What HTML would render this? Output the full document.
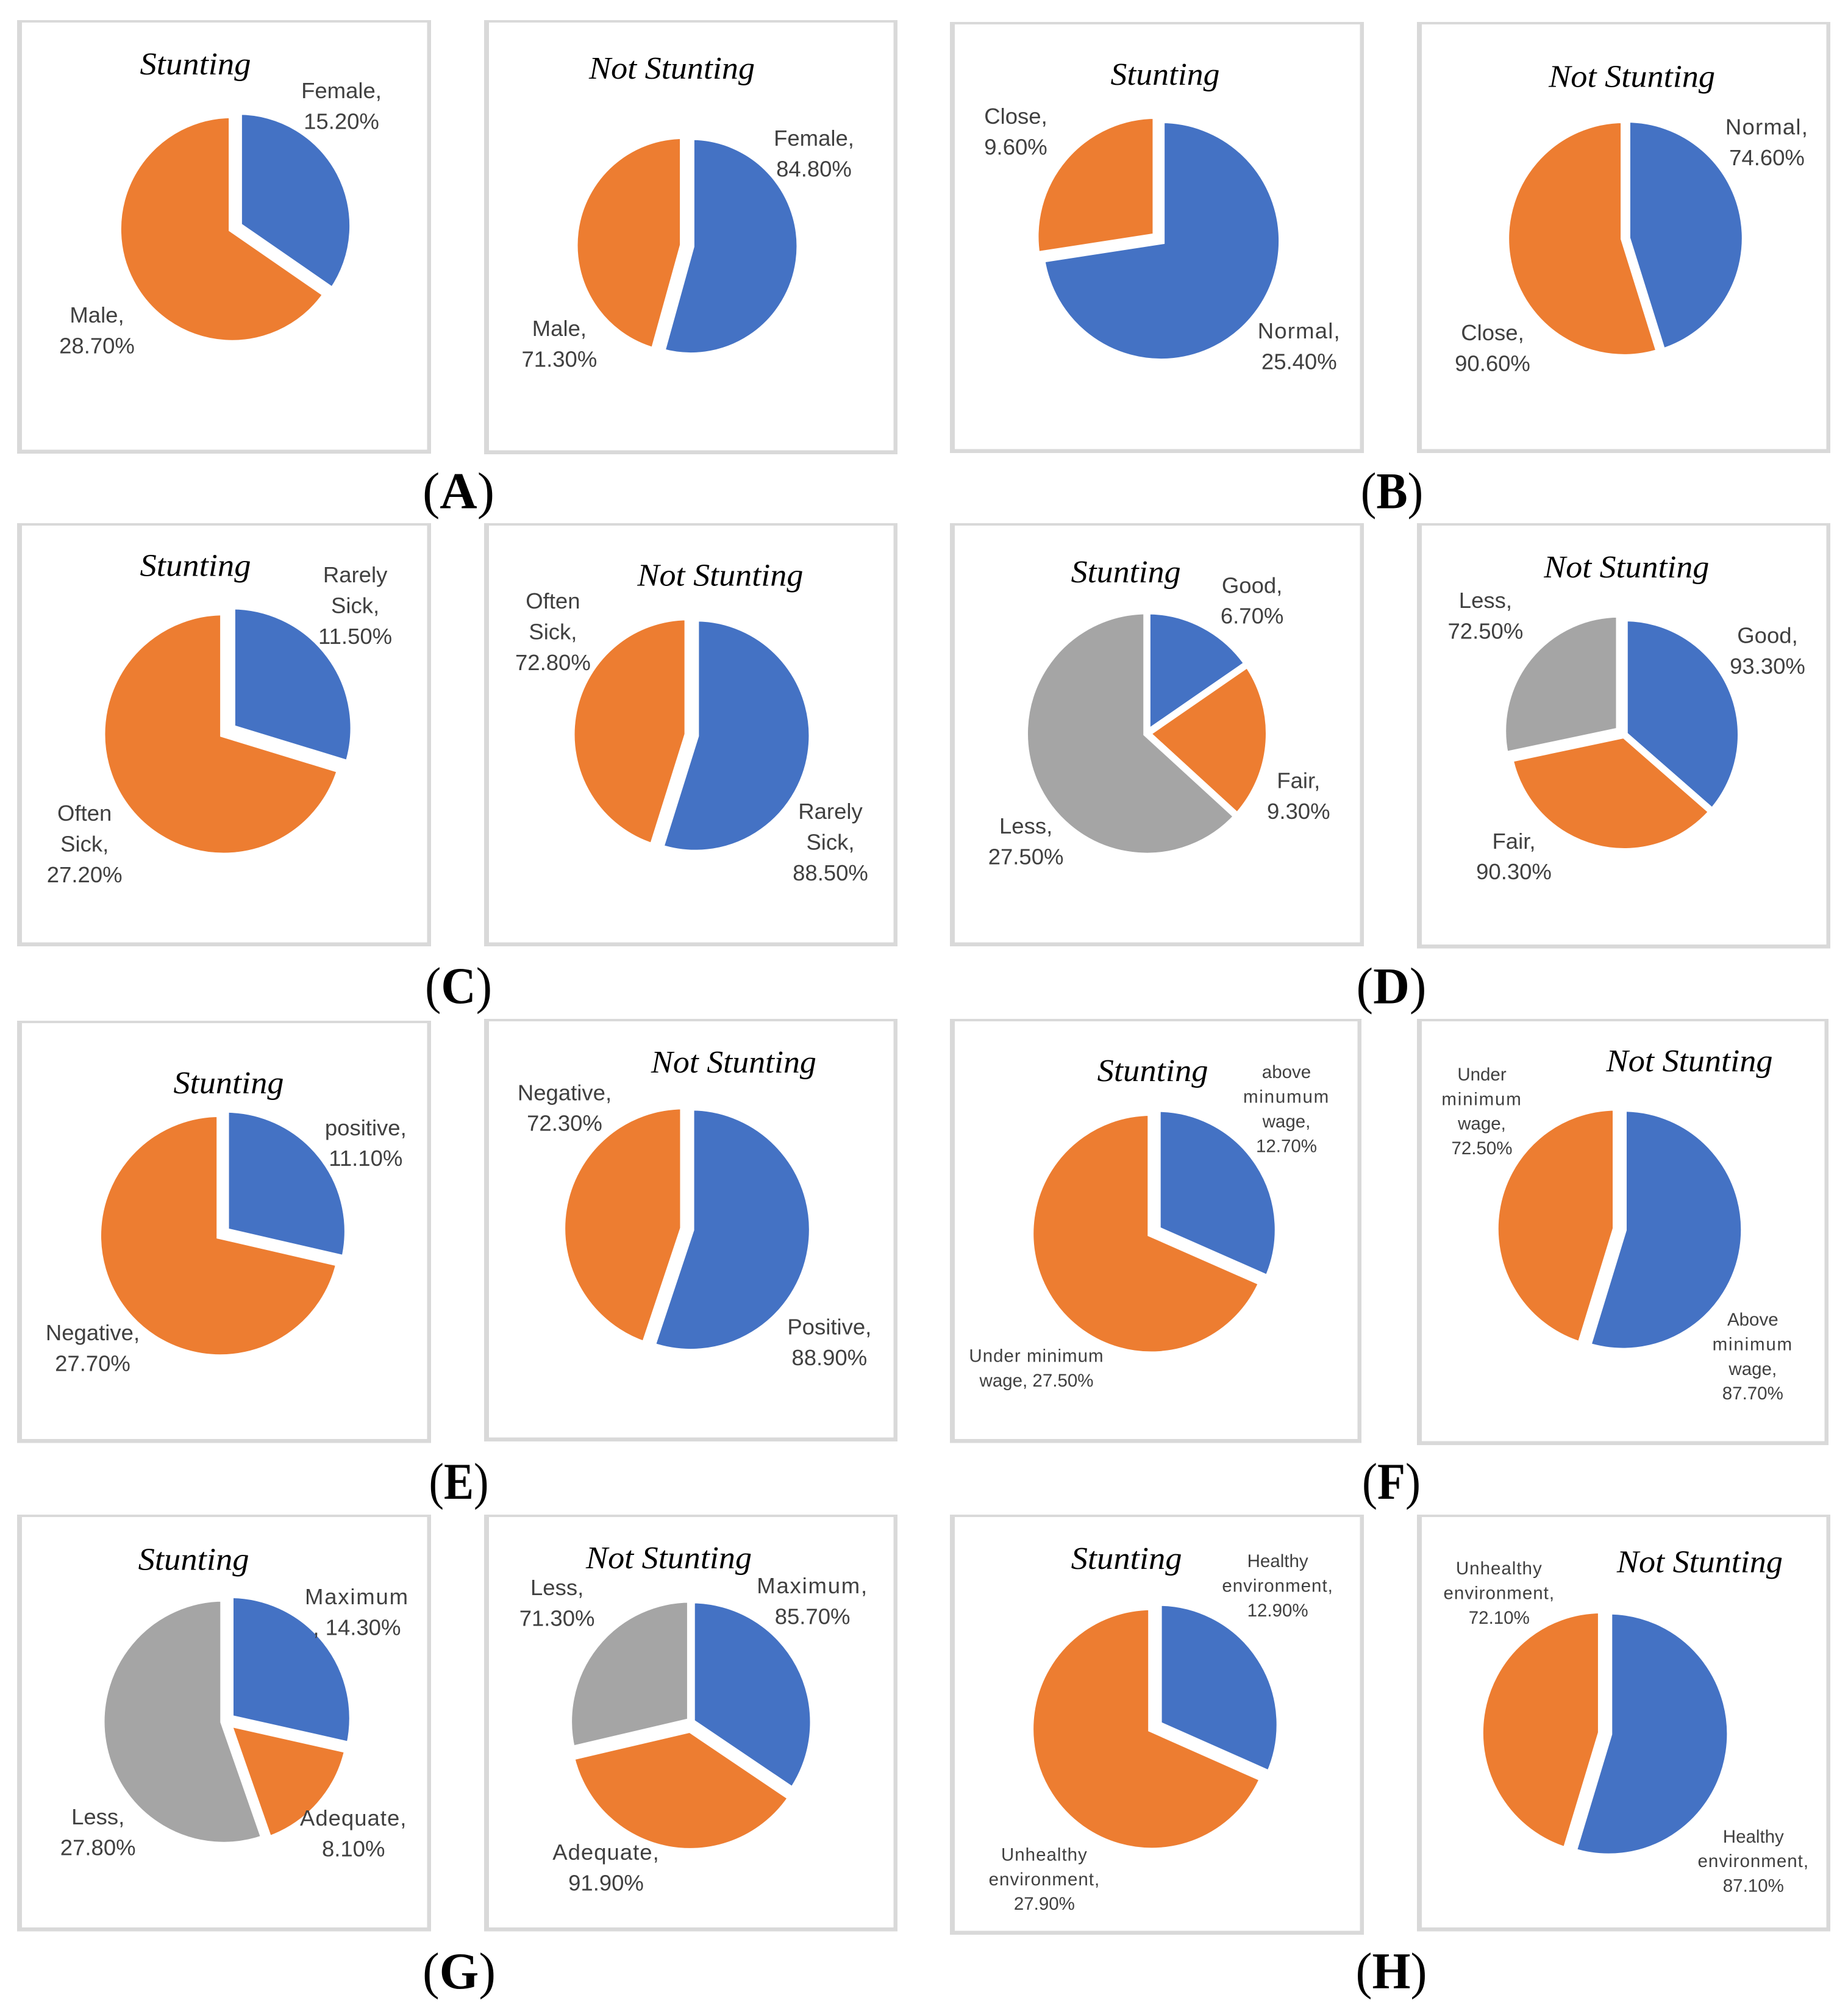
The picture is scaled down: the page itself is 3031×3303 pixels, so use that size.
<!DOCTYPE html>
<html lang="en">
<head>
<meta charset="utf-8">
<title>Stunting pie charts</title>
<style>
html,body{margin:0;padding:0;background:#fff;}
svg{display:block;}
.label{font-family:"Liberation Sans",sans-serif;fill:#404040;text-anchor:middle;}
.title{font-family:"Liberation Serif",serif;font-style:italic;fill:#000;text-anchor:middle;font-size:52px;}
.caption{font-family:"Liberation Serif",serif;fill:#000;text-anchor:middle;font-size:85px;}
</style>
</head>
<body>
<svg id="figure" xmlns="http://www.w3.org/2000/svg" width="3031" height="3303" viewBox="0 0 3031 3303"></svg>
<script>
// ---- chart data ----
const aStuntingCategories = ['Female', 'Male'];
const aStuntingValues = [15.2, 28.7];
const aNotStuntingCategories = ['Female', 'Male'];
const aNotStuntingValues = [84.8, 71.3];

const bStuntingCategories = ['Normal', 'Close'];
const bStuntingValues = [25.4, 9.6];
const bNotStuntingCategories = ['Normal', 'Close'];
const bNotStuntingValues = [74.6, 90.6];

const cStuntingCategories = ['Rarely Sick', 'Often Sick'];
const cStuntingValues = [11.5, 27.2];
const cNotStuntingCategories = ['Rarely Sick', 'Often Sick'];
const cNotStuntingValues = [88.5, 72.8];

const dStuntingCategories = ['Good', 'Fair', 'Less'];
const dStuntingValues = [6.7, 9.3, 27.5];
const dNotStuntingCategories = ['Good', 'Fair', 'Less'];
const dNotStuntingValues = [93.3, 90.3, 72.5];

const eStuntingCategories = ['positive', 'Negative'];
const eStuntingValues = [11.1, 27.7];
const eNotStuntingCategories = ['Positive', 'Negative'];
const eNotStuntingValues = [88.9, 72.3];

const fStuntingCategories = ['above minumum wage', 'Under minimum wage'];
const fStuntingValues = [12.7, 27.5];
const fNotStuntingCategories = ['Above minimum wage', 'Under minimum wage'];
const fNotStuntingValues = [87.7, 72.5];

const gStuntingCategories = ['Maximum ', 'Adequate', 'Less'];
const gStuntingValues = [14.3, 8.1, 27.8];
const gNotStuntingCategories = ['Maximum', 'Adequate', 'Less'];
const gNotStuntingValues = [85.7, 91.9, 71.3];

const hStuntingCategories = ['Healthy environment', 'Unhealthy environment'];
const hStuntingValues = [12.9, 27.9];
const hNotStuntingCategories = ['Healthy environment', 'Unhealthy environment'];
const hNotStuntingValues = [87.1, 72.1];

const sliceColors = ['#4472C4', '#ED7D31', '#A5A5A5'];

// ---- layout (geometry only) ----
const SVG_NS = 'http://www.w3.org/2000/svg';
const STD = {size: 36.5, lead: 50.4};
const SMALL = {size: 29.5, lead: 40.4};
const SLICE_BORDER = 11.5;

const pies = [
 {id:'a-stunting', cats:aStuntingCategories, vals:aStuntingValues, frame:[28,33,707,744], title:['Stunting',320.5,122,182],
  cx:386, cy:373, rx:182, ry:182, ex:[5.8,5.8], labels:[[560,161],[159,529]], font:STD},
 {id:'a-not-stunting', cats:aNotStuntingCategories, vals:aNotStuntingValues, frame:[794,33,1472,745], title:['Not Stunting',1102,129,272],
  cx:1127, cy:403, rx:173.3, ry:174.2, ex:[6.2,6.2], labels:[[1335,239],[917.4,551]], font:STD},
 {id:'b-stunting', cats:bStuntingCategories, vals:bStuntingValues, frame:[1558,36,2237,743], title:['Stunting',1911,139,179],
  cx:1900.3, cy:391.5, rx:192.7, ry:193.1, ex:[5.4,5.4], labels:[[2130.8,555],[1666,203]], font:STD},
 {id:'b-not-stunting', cats:bNotStuntingCategories, vals:bNotStuntingValues, frame:[2324,36,3002,743], title:['Not Stunting',2676.6,142.6,273],
  cx:2666, cy:391, rx:188.6, ry:189.5, ex:[2.2,2.2], labels:[[2898,220.5],[2448,558]], font:STD},

 {id:'c-stunting', cats:cStuntingCategories, vals:cStuntingValues, frame:[28,858,707,1552], title:['Stunting',320.5,944.6,182],
  cx:373.5, cy:1199, rx:194.4, ry:194.6, ex:[8.25,8.25], labels:[[582.6,955],[138.7,1346]], font:STD},
 {id:'c-not-stunting', cats:cNotStuntingCategories, vals:cNotStuntingValues, frame:[794,858,1472,1552], title:['Not Stunting',1181.4,960.3,272],
  cx:1134.5, cy:1205.5, rx:185.8, ry:187.2, ex:[6.2,6.2], labels:[[1362,1343],[906.9,998]], font:STD},
 {id:'d-stunting', cats:dStuntingCategories, vals:dStuntingValues, frame:[1558,858,2237,1552], title:['Stunting',1846.6,955,180],
  cx:1881, cy:1203, rx:195, ry:195.5, ex:[0,0,0], labels:[[2053.6,972.3],[2129.8,1292.4],[1682.6,1367]], font:STD},
 {id:'d-not-stunting', cats:dNotStuntingCategories, vals:dNotStuntingValues, frame:[2324,858,3002,1555.5], title:['Not Stunting',2667.8,947,271],
  cx:2664, cy:1205, rx:186, ry:186, ex:[0,0,10], labels:[[2899,1054.4],[2483,1391.8],[2436.4,997]], font:STD},

 {id:'e-stunting', cats:eStuntingCategories, vals:eStuntingValues, frame:[28,1674,707,2366.5], title:['Stunting',375,1792.8,181],
  cx:365.4, cy:2023, rx:195, ry:194.7, ex:[5.65,5.65], labels:[[599.8,1861.8],[152,2198]], font:STD},
 {id:'e-not-stunting', cats:eNotStuntingCategories, vals:eNotStuntingValues, frame:[794,1671,1472,2364], title:['Not Stunting',1203.4,1758.8,271],
  cx:1127, cy:2015.7, rx:194, ry:195.4, ex:[5.9,5.9], labels:[[1360.3,2188.7],[926,1804.3]], font:STD},
 {id:'f-stunting', cats:fStuntingCategories, vals:fStuntingValues, frame:[1558,1671,2233,2366.5], title:['Stunting',1890.6,1772.9,182],
  cx:1893, cy:2020, rx:192.8, ry:193.2, ex:[5.9,5.9], labels:[[2110,1768.2],[1700,2233.7,[2,2]]], font:SMALL},
 {id:'f-not-stunting', cats:fNotStuntingCategories, vals:fNotStuntingValues, frame:[2324,1671,2999,2370], title:['Not Stunting',2771,1757.2,273],
  cx:2656.5, cy:2016, rx:193, ry:193.7, ex:[5.8,5.8], labels:[[2874.8,2174],[2430.5,1771.9]], font:SMALL},

 {id:'g-stunting', cats:gStuntingCategories, vals:gStuntingValues, frame:[28,2484,707,3167.5], title:['Stunting',317.6,2574.5,182],
  cx:371, cy:2823, rx:195.5, ry:197, ex:[8,4,4], labels:[[585.4,2631,[1,2]],[579.7,2994],[160.7,2992]], font:STD},
 {id:'g-not-stunting', cats:gNotStuntingCategories, vals:gNotStuntingValues, frame:[794,2484,1472,3167.5], title:['Not Stunting',1097,2571.8,272],
  cx:1134, cy:2824.4, rx:194.5, ry:195, ex:[0,11.7,1.7], labels:[[1332.6,2613],[994,3050],[913.6,2616]], font:STD},
 {id:'h-stunting', cats:hStuntingCategories, vals:hStuntingValues, frame:[1558,2484,2237,3173], title:['Stunting',1847.6,2572.9,182],
  cx:1894.4, cy:2832, rx:193.8, ry:194.8, ex:[6.5,6.5], labels:[[2095.6,2570],[1712.9,3051.4]], font:SMALL},
 {id:'h-not-stunting', cats:hNotStuntingCategories, vals:hNotStuntingValues, frame:[2324,2484,3002,3167.5], title:['Not Stunting',2787.9,2578.3,272],
  cx:2632.6, cy:2842.8, rx:193.8, ry:195.9, ex:[6,6], labels:[[2875.8,3021.8],[2458.8,2582]], font:SMALL}
];

const captions = [
 ['A',752,833.7,118],['B',2283,833.7,102.5],
 ['C',752,1645,110],['D',2282,1645.4,115],
 ['E',752.5,2458,98],['F',2282,2458,96],
 ['G',753,3261,120],['H',2282,3261,117]
];

// ---- drawing ----
const figure = document.getElementById('figure');

function make(tag, attrs, parent) {
  const node = document.createElementNS(SVG_NS, tag);
  for (const key in attrs) node.setAttribute(key, attrs[key]);
  parent.appendChild(node);
  return node;
}

function angleScale(values) {
  const total = values.reduce((a, b) => a + b, 0);
  let running = 0;
  return values.map(v => {
    const start = running / total * 2 * Math.PI;
    running += v;
    return [start, running / total * 2 * Math.PI];
  });
}

function labelLines(text, breaks) {
  const words = text.split(' ');
  if (!breaks) return words;
  const lines = [];
  let i = 0;
  breaks.forEach(n => {
    lines.push(words.slice(i, i + n).join(' '));
    i += n;
  });
  return lines;
}

// Liberation Sans runs narrower than the original face on these wide words.
function lineTracking(line) {
  if (/^(Maximum|minimum|minumum)/.test(line)) return 1.8;
  if (/environment|Unhealthy|Under minimum|Adequate/.test(line)) return 1;
  if (/Normal/.test(line)) return 1.2;
  return 0;
}

function drawFrame(pie, group) {
  const [l, t, r, b] = pie.frame;
  const frame = make('path', {
    d: `M${l} ${t}H${r}V${b}H${l}Z M${l + 8} ${t + 4}V${b - 6.5}H${r - 6.5}V${t + 4}Z`,
    fill: '#D9D9D9', 'fill-rule': 'evenodd'
  }, group);
  
  
}

function drawTitle(pie, group) {
  const [text, x, y, width] = pie.title;
  const title = make('text', {
    class: 'title', x: x, y: y, textLength: width, lengthAdjust: 'spacingAndGlyphs'
  }, group);
  title.textContent = text;
  
  
}

function drawSlices(pie, group) {
  const prx = pie.rx + SLICE_BORDER / 2;
  const pry = pie.ry + SLICE_BORDER / 2;
  angleScale(pie.vals).forEach((range, i) => {
    const [a0, a1] = range;
    const mid = (a0 + a1) / 2;
    const ox = pie.cx + pie.ex[i] * Math.sin(mid);
    const oy = pie.cy - pie.ex[i] * Math.cos(mid);
    const x0 = ox + prx * Math.sin(a0), y0 = oy - pry * Math.cos(a0);
    const x1 = ox + prx * Math.sin(a1), y1 = oy - pry * Math.cos(a1);
    const large = a1 - a0 > Math.PI ? 1 : 0;
    const slice = make('path', {
      d: `M${ox} ${oy}L${x0} ${y0}A${prx} ${pry} 0 ${large} 1 ${x1} ${y1}Z`,
      fill: sliceColors[i], stroke: '#fff', 'stroke-width': SLICE_BORDER,
      'stroke-linejoin': 'miter', 'stroke-miterlimit': 20
    }, group);
    
    
  });
}

function drawLabels(pie, group) {
  pie.vals.forEach((value, i) => {
    const [x, y, breaks] = pie.labels[i];
    const text = `${pie.cats[i]}, ${value.toFixed(2)}%`;
    const label = make('text', {class: 'label', 'font-size': pie.font.size}, group);
    
    
    labelLines(text, breaks).forEach((line, n) => {
      const span = make('tspan', {x: x, y: y + n * pie.font.lead, 'letter-spacing': lineTracking(line)}, label);
      span.textContent = line;
    });
  });
}

pies.forEach(pie => {
  const group = make('g', {}, figure);
  
  
  drawFrame(pie, group);
  drawSlices(pie, group);
  drawLabels(pie, group);
  drawTitle(pie, group);
});

captions.forEach(([letter, x, y, width]) => {
  const caption = make('text', {
    class: 'caption', x: x, y: y, textLength: width, lengthAdjust: 'spacingAndGlyphs'
  }, figure);
  
  
  caption.appendChild(document.createTextNode('('));
  const bold = make('tspan', {'font-weight': 'bold'}, caption);
  bold.textContent = letter;
  caption.appendChild(document.createTextNode(')'));
});
</script>
</body>
</html>
